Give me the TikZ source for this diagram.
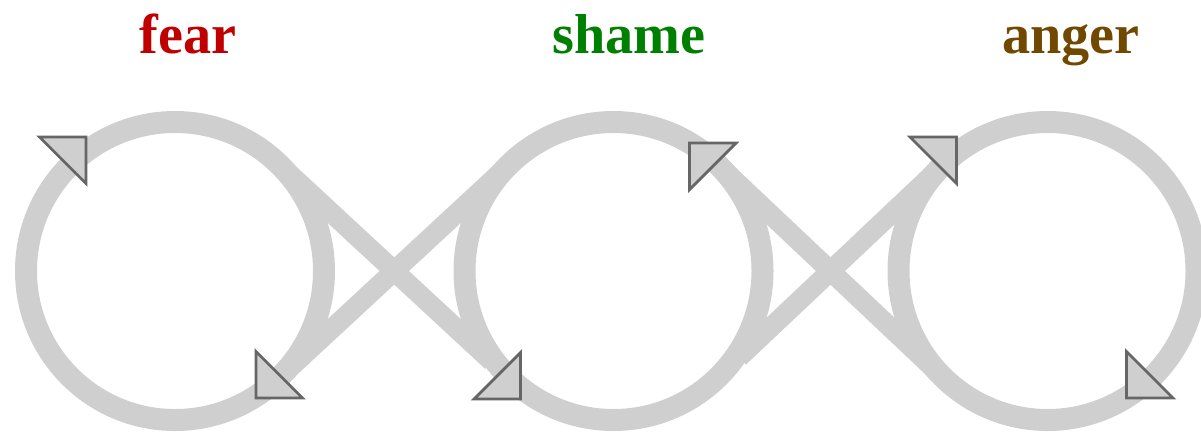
\documentclass[tikz,border=0pt]{standalone}
\usepackage{fontspec}
\setmainfont{Liberation Serif}
\usetikzlibrary{calc}
\definecolor{band}{HTML}{CFCFCF}
\definecolor{tipline}{HTML}{666666}
\definecolor{fearred}{HTML}{C00000}
\definecolor{shamegreen}{HTML}{008000}
\definecolor{angerbrown}{HTML}{704800}
\tikzset{
  ring/.style={circle,draw=band,line width=0.22cm,minimum size=2.98cm,inner sep=0pt,outer sep=0pt},
  link/.style={draw=band,line width=0.20cm},
  halftip/.style={fill=band,draw=tipline,line width=0.8pt},
  emotion/.style={font=\fontsize{16}{19}\selectfont\bfseries,anchor=base}
}

\begin{document}
\begin{tikzpicture}[x=1cm,y=1cm]
  \useasboundingbox (0,0) rectangle (12.01,4.32);

  \node[ring] (c1) at (1.75,1.61) {};
  \node[ring] (c2) at (6.135,1.61) {};
  \node[ring] (c3) at (10.475,1.61) {};

  \node[emotion,text=fearred] (fear) at (1.88,3.79) {fear};
  \node[emotion,text=shamegreen] (shame) at (6.29,3.79) {shame};
  \node[emotion,text=angerbrown] (anger) at (10.71,3.79) {anger};

  \coordinate (a1) at ($(c1)+(47:1.49)$);
  \coordinate (b1) at ($(c2)+(227:1.49)$);
  \coordinate (a2) at ($(c1)+(-47:1.49)$);
  \coordinate (b2) at ($(c2)+(133:1.49)$);
  \coordinate (a3) at ($(c2)+(47:1.49)$);
  \coordinate (b3) at ($(c3)+(227:1.49)$);
  \coordinate (a4) at ($(c2)+(-47:1.49)$);
  \coordinate (b4) at ($(c3)+(133:1.49)$);

  \draw[link] (a1) -- ($(b1)!0.27cm!(a1)$);
  \draw[link] ($(a2)!-0.20cm!(b2)$) -- ($(b2)!-0.08cm!(a2)$);
  \draw[link] (a3) -- ($(b3)!0.09cm!(a3)$);
  \draw[link] ($(a4)!0.33cm!(b4)$) -- (b4);

  \foreach \c/\dx/\dy/\sx/\sy in {c1/-0.89/1.34/-1/-1, c1/0.81/-1.27/1/1,
      c2/0.76/1.28/1/-1, c2/-0.93/-1.28/-1/1,
      c3/-0.91/1.34/-1/-1, c3/0.79/-1.27/1/1}
    \draw[halftip] ($(\c)+(\dx,\dy)$) -- +(\sx*0.465,0) -- +(0,\sy*0.465) -- cycle;
\end{tikzpicture}
\end{document}
